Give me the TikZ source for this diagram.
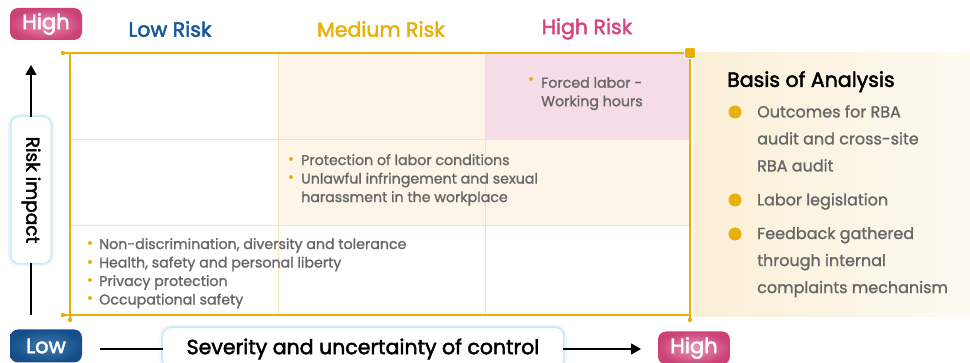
\documentclass[tikz,border=0pt]{standalone}
\usepackage{fontspec}
\setmainfont{Poppins}
\newfontface\medf{Poppins}[FakeBold=1.2]
\newfontface\semif{Poppins}[FakeBold=2.2]
\usetikzlibrary{arrows.meta}
\definecolor{gold}{HTML}{E8B00A}
\definecolor{lgold}{HTML}{F6E2B2}
\definecolor{cream}{HTML}{FDF6E8}
\definecolor{pinkcell}{HTML}{F5DCE6}
\definecolor{txtgray}{HTML}{666666}
\definecolor{riskblue}{HTML}{17589A}
\definecolor{riskpink}{HTML}{D6457E}
\definecolor{glowblue}{HTML}{BFE3F0}
\tikzset{
  x=1pt,y=-1pt,
  celltext/.style={anchor=north west,align=left,text=txtgray,font=\medf\fontsize{14.2}{18.5}\selectfont,inner sep=0pt},
  bul/.style={circle,fill=gold,inner sep=0pt,minimum size=4pt},
  bigbul/.style={circle,fill=gold,inner sep=0pt,minimum size=13pt},
  sidetext/.style={anchor=north west,align=left,text=txtgray,font=\medf\fontsize{16}{27}\selectfont,inner sep=0pt},
  header/.style={font=\semif\fontsize{20.5}{22}\selectfont},
  pinkbox/.style={rounded corners=8pt,inner color=riskpink!55!white,outer color=riskpink!95!black,text=white,font=\semif\fontsize{21}{22}\selectfont,minimum width=72pt,minimum height=32pt,inner sep=0pt},
  bluebox/.style={rounded corners=8pt,inner color=riskblue!80!white,outer color=riskblue!90!black,text=white,font=\semif\fontsize{21}{22}\selectfont,minimum width=72pt,minimum height=33pt,inner sep=0pt},
  glowbox/.style={rounded corners=8pt,fill=white,
    preaction={draw=glowblue,line width=7pt,opacity=0.25},
    preaction={draw=glowblue,line width=4pt,opacity=0.45},
    preaction={draw=glowblue,line width=1.5pt,opacity=0.8}},
  axisline/.style={line width=1.3pt,black},
  axisarrow/.style={line width=1.3pt,black,-{Triangle[length=10pt,width=11pt]}},
}
\begin{document}
\begin{tikzpicture}
\useasboundingbox (0,0) rectangle (970,363);
\fill[white] (0,0) rectangle (970,363);
% right panel
\fill[left color={rgb,255:red,250;green,239;blue,214},right color={rgb,255:red,253;green,250;blue,242}] (693,53) rectangle (970,317);
% cells
\fill[cream] (278,53) rectangle (485,225);
\fill[cream] (485,139) rectangle (690,225);
\fill[pinkcell] (485,53) rectangle (690,139);
% grid lines
\draw[lgold,line width=0.8pt] (70,139) -- (690,139) (70,225) -- (690,225)
  (278,53) -- (278,315) (485,53) -- (485,315);
% outer frame
\draw[gold,line width=1.3pt] (63,53) -- (690,53);
\draw[gold,line width=1.3pt] (63,315) -- (690,315);
\draw[gold,line width=1.3pt] (70,53) -- (70,320);
\draw[gold,line width=1.3pt] (690,53) -- (690,320);
\fill[gold] (63,53) circle (2.2pt) (63,315) circle (2.2pt) (70,320) circle (2.2pt) (690,320) circle (2.2pt);
\node[fill=gold,draw=white,line width=0.8pt,minimum size=11pt,inner sep=0pt,rounded corners=1.5pt] (corner) at (690,53) {};
% headers
\node[pinkbox] (hightop) at (46,24) {High};
\node[header,text=riskblue] (lowrisk) at (170,29) {Low Risk};
\node[header,text=gold] (medrisk) at (381,29) {Medium Risk};
\node[header,text=riskpink] (highrisk) at (587,29) {High Risk};
% vertical axis
\node[glowbox,minimum width=39pt,minimum height=146pt,inner sep=0pt] (riskbox) at (31,190) {};
\node[rotate=-90,font=\semif\fontsize{18.5}{20}\selectfont] (risklabel) at (31,190) {Risk impact};
\coordinate (vtop) at (31,65);
\coordinate (vbot) at (31,315);
\draw[axisarrow] (riskbox.north) -- (vtop);
\draw[axisline] (riskbox.south) -- (vbot);
% horizontal axis
\node[bluebox] (lowbot) at (46,346) {Low};
\node[glowbox,minimum width=400pt,minimum height=40pt,inner sep=0pt,anchor=north west] (sevbox) at (163,328) {};
\node[font=\semif\fontsize{20.5}{20}\selectfont,anchor=center] (sevlabel) at (363,349) {Severity and uncertainty of control};
\node[pinkbox,minimum height=33pt] (highbot) at (694,348) {High};
\coordinate (hstart) at (100,349);
\coordinate (hend) at (641,349);
\draw[axisline] (hstart) -- (sevbox.west |- hstart);
\draw[axisarrow] (sevbox.east |- hend) -- (hend);
% top-right cell
\node[bul] (b1) at (531,79) {};
\node[celltext] (t1) at (541,77) {Forced labor -\\Working hours};
% middle cell
\node[bul] (b2) at (291,159) {};
\node[bul] (b3) at (291,177) {};
\node[celltext] (t2) at (301,154) {Protection of labor conditions\\Unlawful infringement and sexual\\harassment in the workplace};
% bottom-left cell
\node[bul] (b4) at (90,243) {};
\node[bul] (b5) at (90,262) {};
\node[bul] (b6) at (90,280) {};
\node[bul] (b7) at (90,298) {};
\node[celltext] (t3) at (99,238) {Non-discrimination, diversity and tolerance\\Health, safety and personal liberty\\Privacy protection\\Occupational safety};
% side panel
\node[anchor=north west,inner sep=0pt,font=\semif\fontsize{20.5}{22}\selectfont] (basis) at (727,71) {Basis of Analysis};
\node[bigbul] (s1) at (735,112) {};
\node[bigbul] (s2) at (735,200) {};
\node[bigbul] (s3) at (735,234) {};
\node[sidetext] (st1) at (757,105) {Outcomes for RBA\\audit and cross-site\\RBA audit};
\node[sidetext] (st2) at (757,193) {Labor legislation};
\node[sidetext] (st3) at (757,227) {Feedback gathered\\through internal\\complaints mechanism};
\end{tikzpicture}
\end{document}
